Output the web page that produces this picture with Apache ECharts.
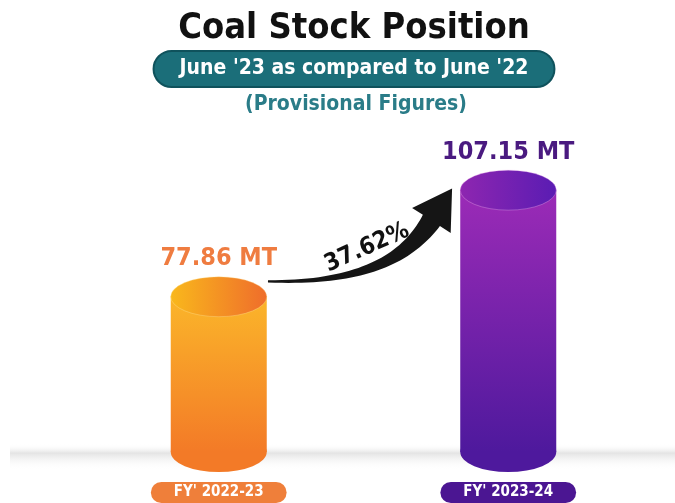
<!DOCTYPE html>
<html style="height: 100%">
<head>
  <meta charset="utf-8">
</head>
<body style="height: 100%; margin: 0; background: #fff">
  <div id="container" style="width: 675px; height: 503px"></div>
  <script type="text/javascript" src="https://cdn.jsdelivr.net/npm/echarts@6/dist/echarts.min.js"></script>
  <script type="text/javascript">
    // data
    var years = ["FY' 2022-23", "FY' 2023-24"];
    var stock = [77.86, 107.15];
    var growthText = '37.62%';
    var yMin = 35, yMax = 140;
    // arrow annotation in data units (hidden value x axis): start, tip, label centre
    var arrowStart = [0.17, 81.9];
    var arrowTip = [0.806, 107.4];
    var arrowLabelAt = [0.512, 91.7];

    var FONT = '"DejaVu Sans Condensed", "Liberation Sans Narrow", sans-serif';
    var bodyColors = [
      ['#fbb62a', '#f37a27'],
      ['#9c2bb7', '#4e199d']
    ];
    var capColors = [
      ['#f9b81c', '#ef6d2b', '#ffe7a0'],
      ['#8e26b0', '#5a1cb3', '#f2b6ef']
    ];
    var labelColors = ['#ef7c40', '#4a1a80'];
    var pillColors = ['#ef7f3a', '#4b1692'];

    var dom = document.getElementById('container');
    var myChart = echarts.init(dom);

    function vgrad(c) {
      return new echarts.graphic.LinearGradient(0, 0, 0, 1, [
        { offset: 0, color: c[0] }, { offset: 1, color: c[1] }
      ]);
    }
    function hgrad(c) {
      return new echarts.graphic.LinearGradient(0, 0, 1, 0, [
        { offset: 0, color: c[0] }, { offset: 1, color: c[1] }
      ]);
    }

    var option = {
      backgroundColor: '#ffffff',
      animation: false,
      graphic: [
        {
          type: 'text',
          x: 354,
          y: 11,
          style: {
            text: 'Coal Stock Position',
            font: 'bold 36px ' + FONT,
            fill: '#111',
            align: 'center',
            verticalAlign: 'top'
          }
        },
        {
          type: 'text',
          x: 354,
          y: 52,
          style: {
            text: "June '23 as compared to June '22",
            font: 'bold 21px ' + FONT,
            fill: '#fff',
            align: 'center',
            verticalAlign: 'top',
            lineHeight: 26,
            backgroundColor: '#1b6e79',
            borderColor: '#0f525c',
            borderWidth: 2,
            borderRadius: 18,
            padding: [4, 25, 4, 25]
          }
        },
        {
          type: 'text',
          x: 356,
          y: 105,
          style: {
            text: '(Provisional Figures)',
            font: 'bold 21px ' + FONT,
            fill: '#2a7c88',
            align: 'center',
            verticalAlign: 'middle'
          }
        },
        {
          type: 'rect',
          z: -10,
          shape: { x: 10, y: 444, width: 665, height: 26 },
          style: {
            fill: new echarts.graphic.LinearGradient(0, 0, 0, 1, [
              { offset: 0, color: 'rgba(255,255,255,0)' },
              { offset: 0.35, color: '#e4e4e4' },
              { offset: 1, color: 'rgba(255,255,255,0)' }
            ])
          }
        }
      ],
      grid: { left: 74, right: 22, top: 70, bottom: 50 },
      xAxis: [
        {
          type: 'category',
          data: years,
          axisLine: { show: false },
          axisTick: { show: false },
          axisLabel: {
            margin: 30,
            formatter: function (v, i) { return '{p' + i + '|' + v + '}'; },
            rich: {
              p0: {
                backgroundColor: pillColors[0], color: '#fff', fontFamily: FONT,
                fontWeight: 'bold', fontSize: 15, borderRadius: 11,
                padding: [3, 23, 3, 23]
              },
              p1: {
                backgroundColor: pillColors[1], color: '#fff', fontFamily: FONT,
                fontWeight: 'bold', fontSize: 15, borderRadius: 11,
                padding: [3, 23, 3, 23]
              }
            }
          }
        },
        { type: 'value', min: -0.5, max: 1.5, show: false }
      ],
      yAxis: { type: 'value', min: yMin, max: yMax, show: false },
      series: [
        {
          // bottom ellipse of each cylinder, sitting on the axis floor
          type: 'pictorialBar',
          symbol: 'circle',
          symbolSize: [96, 40],
          symbolPosition: 'end',
          symbolOffset: [0, '-50%'],
          clip: false,
          z: 1,
          data: stock.map(function (v, i) {
            return { value: yMin, itemStyle: { color: bodyColors[i][1] } };
          })
        },
        {
          type: 'bar',
          barWidth: 96,
          z: 2,
          data: stock.map(function (v, i) {
            return {
              value: v,
              itemStyle: { color: vgrad(bodyColors[i]) },
              label: { color: labelColors[i] }
            };
          }),
          label: {
            show: true,
            position: 'top',
            distance: 25,
            fontFamily: FONT,
            fontWeight: 'bold',
            fontSize: 25,
            formatter: function (p) { return p.value.toFixed(2) + ' MT'; }
          }
        },
        {
          type: 'pictorialBar',
          symbol: 'circle',
          symbolSize: [96, 40],
          symbolOffset: [0, '-50%'],
          symbolPosition: 'end',
          clip: false,
          z: 3,
          data: stock.map(function (v, i) {
            return {
              value: v,
              itemStyle: {
                color: hgrad(capColors[i]),
                borderColor: capColors[i][2],
                borderWidth: 2
              }
            };
          })
        },
        {
          type: 'custom',
          xAxisIndex: 1,
          z: 5,
          clip: false,
          data: [arrowStart.concat(arrowTip, arrowLabelAt)],
          renderItem: function (params, api) {
            var p0 = api.coord([api.value(0), api.value(1)]);
            var tip = api.coord([api.value(2), api.value(3)]);
            var lp = api.coord([api.value(4), api.value(5)]);
            var ang = 57 * Math.PI / 180;
            var dx = Math.cos(ang), dy = -Math.sin(ang);
            var headLen = 38, headW = 46;
            var base = [tip[0] - dx * headLen, tip[1] - dy * headLen];
            var c1 = [p0[0] + 95, p0[1] + 2];
            var c2 = [base[0] - dx * 45, base[1] - dy * 45];
            function bez(t) {
              var u = 1 - t;
              return [
                u * u * u * p0[0] + 3 * u * u * t * c1[0] + 3 * u * t * t * c2[0] + t * t * t * base[0],
                u * u * u * p0[1] + 3 * u * u * t * c1[1] + 3 * u * t * t * c2[1] + t * t * t * base[1]
              ];
            }
            var left = [], right = [], n = 40;
            for (var k = 0; k <= n; k++) {
              var t = k / n;
              var a = bez(Math.max(0, t - 0.01)), b = bez(Math.min(1, t + 0.01));
              var tx = b[0] - a[0], ty = b[1] - a[1];
              var len = Math.sqrt(tx * tx + ty * ty) || 1;
              var nx = -ty / len, ny = tx / len;
              var w = 1.2 + 9 * Math.pow(t, 1.3);
              var p = bez(t);
              left.push([p[0] + nx * w, p[1] + ny * w]);
              right.push([p[0] - nx * w, p[1] - ny * w]);
            }
            var px = -dy, py = dx;
            var pts = left.concat([
              [base[0] + px * headW / 2, base[1] + py * headW / 2],
              tip,
              [base[0] - px * headW / 2, base[1] - py * headW / 2]
            ]).concat(right.reverse());
            return {
              type: 'group',
              children: [
                { type: 'polygon', shape: { points: pts }, style: { fill: '#151515' } },
                {
                  type: 'text',
                  x: lp[0],
                  y: lp[1] + 2,
                  rotation: 24 * Math.PI / 180,
                  style: {
                    text: growthText,
                    font: 'bold 24px ' + FONT,
                    fill: '#111',
                    align: 'center',
                    verticalAlign: 'middle'
                  }
                }
              ]
            };
          }
        }
      ]
    };

    myChart.setOption(option);
  </script>
</body>
</html>
